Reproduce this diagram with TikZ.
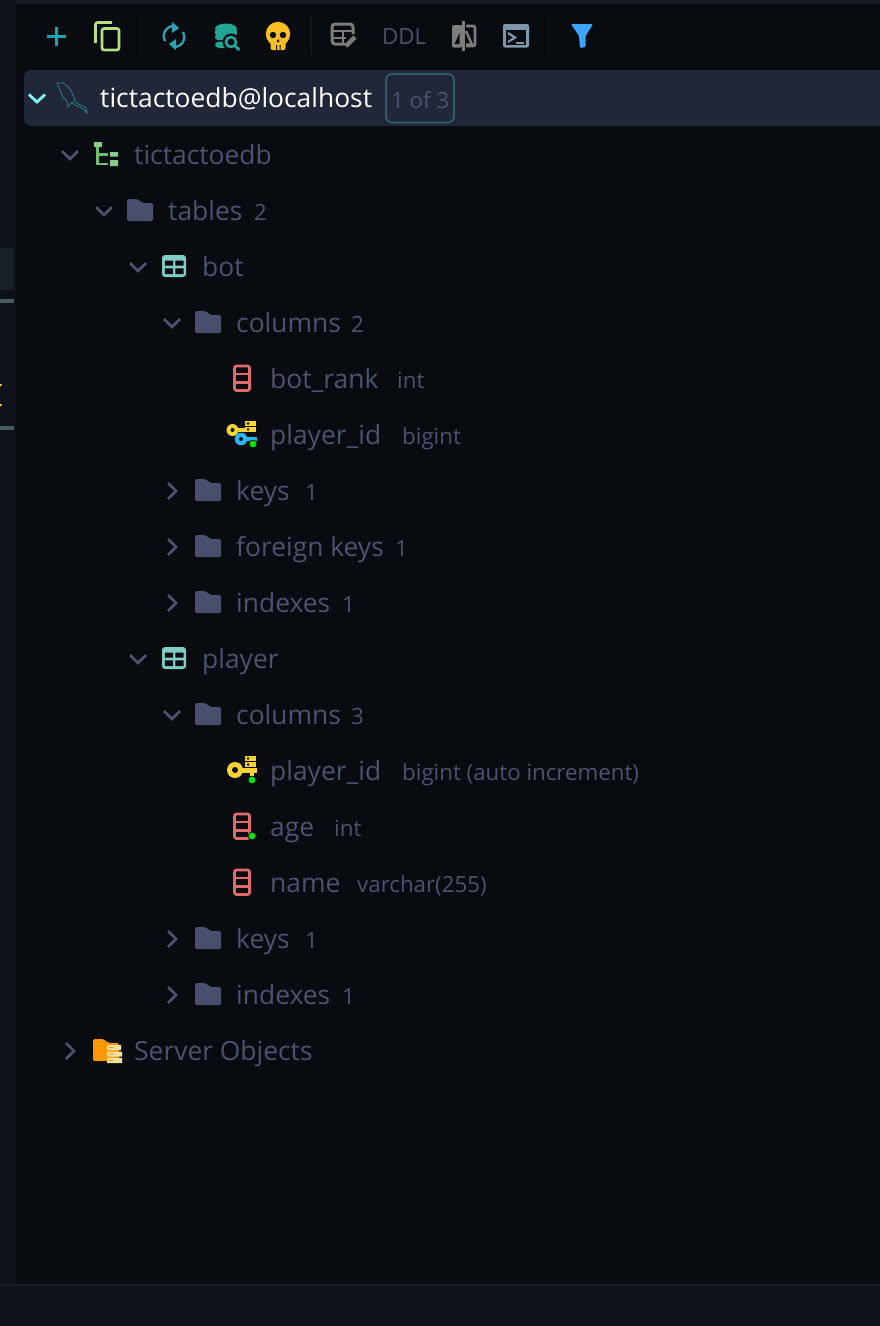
\documentclass[tikz,border=0pt]{standalone}
\usepackage{fontspec}
\setmainfont{Open Sans}
\definecolor{bgmain}{HTML}{080B10}
\definecolor{bgside}{HTML}{0E1118}
\definecolor{bgsel}{HTML}{222639}
\definecolor{txt}{HTML}{4D5270}
\definecolor{fold}{HTML}{4A4F6E}
\definecolor{tblc}{HTML}{7FCDC3}
\definecolor{colc}{HTML}{E06C6C}
\definecolor{keyy}{HTML}{FDD235}
\definecolor{keyb}{HTML}{29B6F6}
\definecolor{grn}{HTML}{00E600}
\definecolor{schema}{HTML}{6FBF73}
\definecolor{schemab}{HTML}{86CF8B}
\definecolor{gicon}{HTML}{7D7D7D}
\definecolor{tealb}{HTML}{22A596}
\definecolor{sync}{HTML}{2FA3B4}
\definecolor{sepc}{HTML}{12151B}
\definecolor{linec}{HTML}{191C22}
\definecolor{stripb}{HTML}{4A5A60}
\definecolor{stripa}{HTML}{1A2028}
\definecolor{orangef}{HTML}{FF9800}
\definecolor{cream}{HTML}{FDE2A0}
\definecolor{badge}{HTML}{2D5B66}
\definecolor{chevsel}{HTML}{7FF5F5}
\definecolor{skull}{HTML}{FBBF24}
\definecolor{copyc}{HTML}{B8DC82}
\definecolor{plusc}{HTML}{19A5B8}
\definecolor{termc}{HTML}{7D97A8}
\definecolor{filt}{HTML}{3EA6FF}
\tikzset{
 x=1pt,y=-1pt,
 main/.style={anchor=base west,inner sep=0pt,text=txt,font=\fontsize{26.4}{31}\selectfont},
 sub/.style={anchor=base west,inner sep=0pt,text=txt,font=\fontsize{22.3}{26}\selectfont},
 chevd/.pic={\draw[txt,line width=2.6pt] (-8,-4)--(0,4)--(8,-4);},
 chevr/.pic={\draw[txt,line width=2.6pt] (-4,-8)--(4,0)--(-4,8);},
 foldicon/.pic={\fill[fold,rounded corners=2pt] (-13,-12)--(-2,-12)--(2,-8)--(13,-8)--(13,10)--(-13,10)--cycle;},
 tblicon/.pic={
  \fill[tblc,rounded corners=3pt] (-12,-12) rectangle (12,10);
  \fill[bgmain] (-9.2,-6.5) rectangle (-0.9,-1.5) (1.4,-6.5) rectangle (9.6,-1.5) (-9.2,1.3) rectangle (-0.9,7.2) (1.4,1.3) rectangle (9.6,7.2);},
 colicon/.pic={
  \draw[colc,line width=2.7pt,rounded corners=2pt] (-7.5,-13) rectangle (7.5,11.5);
  \draw[colc,line width=2.5pt] (-7.5,-5)--(7.5,-5) (-7.5,3.5)--(7.5,3.5);},
 gdot/.pic={\fill[bgmain] (0,0) circle[radius=4.3]; \fill[grn] (0,0) circle[radius=3.4];},
 dbrow/.pic={\fill[keyy] (0,0) rectangle (11,5); \fill[bgmain] (3,2.5) circle[radius=1.3];},
}
\newcommand{\lab}[4]{\node[main] (#1) at (#2-1,#3+9) {#4};}
\newcommand{\slab}[4]{\node[sub] (#1) at (#2,#3+9) {#4};}
\begin{document}
\begin{tikzpicture}
\useasboundingbox (0,0) rectangle (880,1326);
% backgrounds
\fill[bgmain] (0,0) rectangle (880,1326);
\fill[bgside] (0,0) rectangle (16,1326);
\fill[bgside] (0,1285) rectangle (880,1326);
\fill[linec] (0,1284) rectangle (880,1286);
\fill[linec] (16,0) rectangle (880,3.5);
\fill[stripa] (0,248) rectangle (14,290);
\fill[stripb] (0,298.5) rectangle (14,303);
\fill[stripb] (0,426) rectangle (14,430);
\fill[keyy] (0,384) rectangle (1.5,386) (0,404) rectangle (1.5,406);
% toolbar separators
\fill[sepc] (140.5,16) rectangle (142,55) (310.5,16) rectangle (312,55) (548.5,16) rectangle (550,55);
% plus
\draw[plusc,line width=3pt] (46.5,36)--(65.5,36) (56,26.5)--(56,45.5);
% copy
\draw[copyc,line width=2.6pt,rounded corners=2pt] (102,28.5) rectangle (119,50);
\draw[copyc,line width=2.6pt,rounded corners=2pt] (95.5,43)--(95.5,22.5)--(112,22.5);
% sync
\draw[sync,line width=2.3pt] (165,41) arc[start angle=150,end angle=280,radius=10];
\draw[sync,line width=2.3pt] (183,32) arc[start angle=-30,end angle=100,radius=10];
\fill[sync] (172,22)--(179,28)--(172,33)--cycle;
\fill[sync] (176,50)--(169,44)--(176,39)--cycle;
% db search
\fill[tealb] (226,29) ellipse[x radius=11,y radius=5.5];
\fill[tealb] (215,31) rectangle (237,34) ;
\fill[tealb,rounded corners=3pt] (215,33.5) rectangle (237,40);
\fill[tealb,rounded corners=4pt] (215,41.5) rectangle (232,48);
\fill[bgmain] (231,42) circle[radius=8.5];
\draw[tealb,line width=2.6pt] (231,42) circle[radius=5];
\draw[tealb,line width=2.8pt] (235,46)--(239.5,50);
% skull
\fill[skull] (278,34) circle[radius=12.2];
\fill[skull,rounded corners=2pt] (270.5,40) rectangle (285.5,50);
\fill[bgmain] (273,35) circle[radius=3.2] (283,35) circle[radius=3.2];
\fill[bgmain] (276,45) rectangle (277,50) (279.5,45) rectangle (280.5,50);
\fill[bgmain] (278,39)--(276.5,42)--(279.5,42)--cycle;
% table edit
\draw[gicon,line width=3pt,rounded corners=3pt] (345,44)--(332,44)--(332,24)--(353,24)--(353,34);
\draw[gicon,line width=2.6pt] (332,31)--(353,31) (332,38)--(346,38) (343,31)--(343,44);
\draw[gicon,line width=4.5pt] (346,46)--(355,37);
% DDL
\node[sub] (ddl) at (382,44) {DDL};
% compare
\fill[gicon,rounded corners=2pt] (462.5,25)--(452,25)--(452,47.5)--(462.5,47.5)--cycle;
\fill[bgmain] (459.5,33)--(459.5,44)--(454.5,44)--cycle;
\fill[gicon] (462,21) rectangle (464.5,51);
\draw[gicon,line width=2.6pt,rounded corners=2pt] (466,26)--(475,26)--(475,46)--(466,46);
\draw[gicon,line width=2.4pt] (466,31)--(472,44.5)--(466,44.5);
% terminal
\fill[termc,rounded corners=2pt] (503,24) rectangle (529,47.5);
\fill[bgmain] (506,30) rectangle (526,45);
\draw[termc,line width=2.2pt] (508,33)--(515,37.5)--(508,42);
\draw[termc,line width=2.2pt] (516,43)--(524,43);
% filter
\fill[filt,rounded corners=1pt] (571,24)--(593,24)--(585.5,36)--(585.5,47)--(580,48)--(579,36)--cycle;
% selected row
\fill[bgsel,rounded corners=7pt] (24,70) rectangle (900,126);
\draw[chevsel,line width=2.8pt] (29,94.5)--(37,102)--(45,94.5);
\draw[sync!85!black,line width=0.7pt] (57,83)--(63,83)..controls (70,87) and (74,95) .. (75,102)
  ..controls (79,105) and (84,106) .. (86,108)--(87,113)..controls (84,109) and (80,107) .. (77,106)
  ..controls (74,105) and (72,103) .. (72,102)--(68,107)..controls (68,102) and (66,99) .. (63,97)
  ..controls (62,94) and (60,91) .. (60,90)--cycle;
\node[main,text=white] (conn) at (100,107) {tictactoedb@localhost};
\draw[badge,line width=2pt,rounded corners=6pt] (386,74) rectangle (454,122.5);
\node[sub] (cnt) at (391,108) {1 of 3};
% schema
\pic at (70,155) {chevd};
\fill[schemab] (94,142) rectangle (102,147);
\draw[schema,line width=2.2pt] (97.5,147)--(97.5,164)--(107.5,164) (97.5,154.5)--(107.5,154.5);
\fill[schemab] (110,152) rectangle (118,156.5) (110,160) rectangle (118,166);
\lab{schemaname}{135}{155}{tictactoedb}
% tables
\pic at (104,211) {chevd}; \pic at (140,211) {foldicon};
\lab{tables}{169}{211}{tables} \slab{tablesn}{254}{211}{2}
% bot
\pic at (138,267) {chevd}; \pic at (174,267) {tblicon};
\lab{bot}{203}{267}{bot}
\pic at (172,323) {chevd}; \pic at (208,323) {foldicon};
\lab{cola}{237}{323}{columns} \slab{colan}{351}{323}{2}
\pic at (242,379) {colicon};
\lab{botrank}{271}{379}{bot\_rank} \slab{botrankt}{397}{379}{int}
% multi key
\pic at (245,421) {dbrow}; \pic at (245,427) {dbrow};
\draw[keyy,line width=4.5pt] (233,430)--(247,430);
\fill[keyy] (232.5,430) circle[radius=6]; \fill[bgmain] (232.5,430) circle[radius=2];
\draw[keyb,line width=4.5pt] (241,439)--(257,439);
\fill[keyb] (241,439) circle[radius=6.3]; \fill[bgmain] (241,439) circle[radius=2];
\pic at (253,444) {gdot};
\lab{pida}{271}{435}{player\_id} \slab{pidat}{402}{435}{bigint}
\pic at (172,491) {chevr}; \pic at (208,491) {foldicon};
\lab{keysa}{237}{491}{keys} \slab{keysan}{305}{491}{1}
\pic at (172,547) {chevr}; \pic at (208,547) {foldicon};
\lab{fk}{237}{547}{foreign keys} \slab{fkn}{395}{547}{1}
\pic at (172,603) {chevr}; \pic at (208,603) {foldicon};
\lab{idxa}{237}{603}{indexes} \slab{idxan}{342}{603}{1}
% player
\pic at (138,659) {chevd}; \pic at (174,659) {tblicon};
\lab{player}{203}{659}{player}
\pic at (172,715) {chevd}; \pic at (208,715) {foldicon};
\lab{colb}{237}{715}{columns} \slab{colbn}{351}{715}{3}
% single key
\pic at (245,756) {dbrow}; \pic at (245,762) {dbrow};
\draw[keyy,line width=5pt] (235,770)--(257,770);
\fill[keyy] (250,770) rectangle (254,777);
\fill[keyy] (235,770) circle[radius=8]; \fill[bgmain] (235,770) circle[radius=3];
\pic at (252,780) {gdot};
\lab{pidb}{271}{771}{player\_id} \slab{pidbt}{402}{771}{bigint (auto increment)}
\pic at (242,827) {colicon}; \pic at (252,836) {gdot};
\lab{age}{271}{827}{age} \slab{aget}{334}{827}{int}
\pic at (242,883) {colicon};
\lab{name}{271}{883}{name} \slab{namet}{357}{883}{varchar(255)}
\pic at (172,939) {chevr}; \pic at (208,939) {foldicon};
\lab{keysb}{237}{939}{keys} \slab{keysbn}{305}{939}{1}
\pic at (172,995) {chevr}; \pic at (208,995) {foldicon};
\lab{idxb}{237}{995}{indexes} \slab{idxbn}{342}{995}{1}
% server objects
\pic at (70,1051) {chevr};
\fill[orangef,rounded corners=2pt] (93,1039)--(104,1039)--(108,1043)--(119,1043)--(119,1061)--(93,1061)--cycle;
\fill[cream] (107,1045) rectangle (121,1050) (107,1051.5) rectangle (122,1056.5) (107,1058) rectangle (122,1063);
\fill[orangef] (109,1047) rectangle (113,1048) (109,1053.5) rectangle (113,1054.5) (109,1060) rectangle (113,1061);
\lab{server}{135}{1051}{Server Objects}
\end{tikzpicture}
\end{document}
